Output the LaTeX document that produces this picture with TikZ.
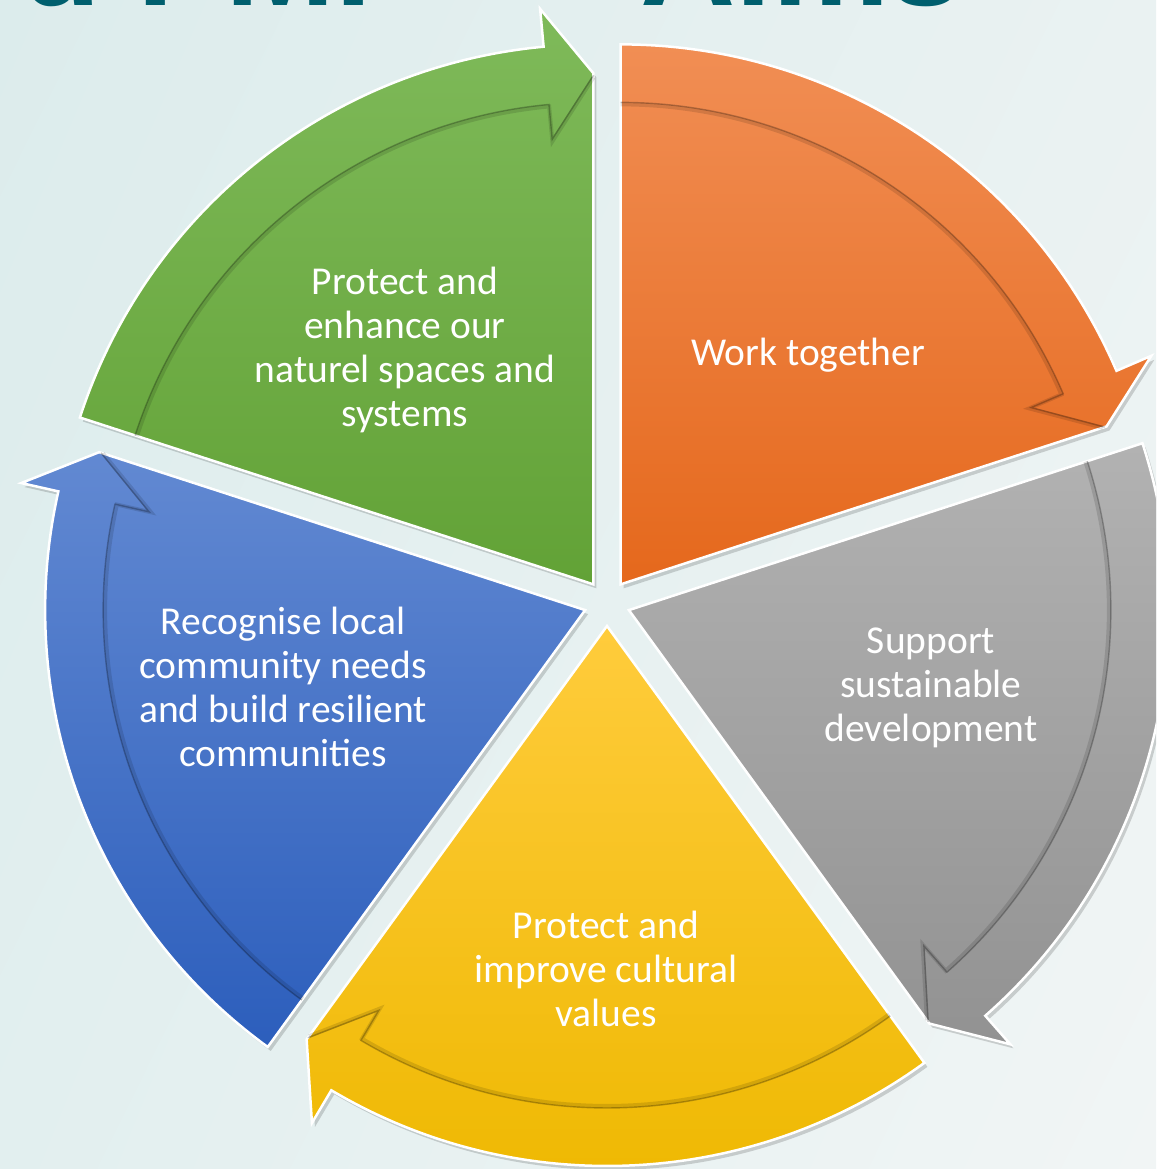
\documentclass[tikz,border=0pt]{standalone}
\usepackage{fontspec}
\setmainfont{Carlito}
\newfontfamily\titlefont{Liberation Sans}
\usetikzlibrary{calc,shadings}

\definecolor{bgUL}{RGB}{220,236,236}
\definecolor{bgUR}{RGB}{234,242,242}
\definecolor{bgLL}{RGB}{226,239,239}
\definecolor{bgLR}{RGB}{241,245,245}
\definecolor{titleteal}{RGB}{0,95,110}
\definecolor{greenT}{RGB}{127,186,90}
\definecolor{greenB}{RGB}{98,162,54}
\definecolor{orangeT}{RGB}{241,142,84}
\definecolor{orangeB}{RGB}{229,104,28}
\definecolor{grayT}{RGB}{178,178,178}
\definecolor{grayB}{RGB}{146,146,146}
\definecolor{yellowT}{RGB}{255,204,60}
\definecolor{yellowB}{RGB}{238,184,0}
\definecolor{blueT}{RGB}{98,137,210}
\definecolor{blueB}{RGB}{44,94,188}

\tikzset{
  segtext/.style={text=white, align=center, font=\fontsize{39.5}{44}\selectfont, inner sep=0pt},
  titletext/.style={text=titleteal, font=\titlefont\bfseries\fontsize{132}{140}\selectfont, inner sep=0pt, anchor=base west},
  segshadow/.style={fill=black, opacity=0.16},
  segbody/.style={draw=white, line width=2.5},
  bandsoft/.style={draw=black, opacity=0.12, line width=4, line join=miter},
  bandline/.style={draw=black, opacity=0.25, line width=1.4, line join=miter}
}

% #1 start angle, #2 end (tip) angle, #3 top colour, #4 bottom colour, #5 apex name
\newcommand\wedgeseg[5]{%
  \coordinate (#5) at ($(C)+({(#1+#2)/2}:23)$);
  \begin{scope}[shift={(#5)}]
    \fill[segshadow, shift={(3,-4)}] (0,0) -- ({#1}:540)
      arc[start angle={#1}, end angle={#2+5.3}, radius=540]
      -- ({#2+5.3}:578) -- ({#2}:511) -- cycle;
    \shadedraw[segbody, top color=#3, bottom color=#4] (0,0) -- ({#1}:540)
      arc[start angle={#1}, end angle={#2+5.3}, radius=540]
      -- ({#2+5.3}:578) -- ({#2}:511) -- cycle;
    \draw[bandsoft] ({#1}:480)
      arc[start angle={#1}, end angle={#2+5.3}, radius=480]
      -- ({#2+5.3}:445) -- ({#2}:507);
    \draw[bandline] ({#1}:482)
      arc[start angle={#1}, end angle={#2+5.3}, radius=482]
      -- ({#2+5.3}:447) -- ({#2}:509);
  \end{scope}%
}

\begin{document}
\begin{tikzpicture}[x=1pt,y=1pt]
\useasboundingbox (0,0) rectangle (1156,1169);
\clip (0,0) rectangle (1156,1169);
\shade[upper left=bgUL, upper right=bgUR, lower left=bgLL, lower right=bgLR] (0,0) rectangle (1156,1169);

% cropped title
\node[titletext] (title1) at (20,1163) {d PMP};
\node[titletext] (title2) at (640,1163) {Aims};

\coordinate (C) at (607,566);

\wedgeseg{162}{90}{greenT}{greenB}{gA}
\wedgeseg{90}{18}{orangeT}{orangeB}{oA}
\wedgeseg{18}{-54}{grayT}{grayB}{sA}
\wedgeseg{-54}{-126}{yellowT}{yellowB}{yA}
\wedgeseg{-126}{-198}{blueT}{blueB}{bA}

\node[segtext] (tgreen) at (405,819) {Protect and\\enhance our\\naturel spaces and\\systems};
\node[segtext] (torange) at (808,814) {Work together};
\node[segtext] (tgray) at (931,481) {Support\\sustainable\\development};
\node[segtext] (tyellow) at (606,200) {Protect and\\improve cultural\\values};
\node[segtext] (tblue) at (283,482) {Recognise local\\community needs\\and build resilient\\communities};
\end{tikzpicture}
\end{document}
